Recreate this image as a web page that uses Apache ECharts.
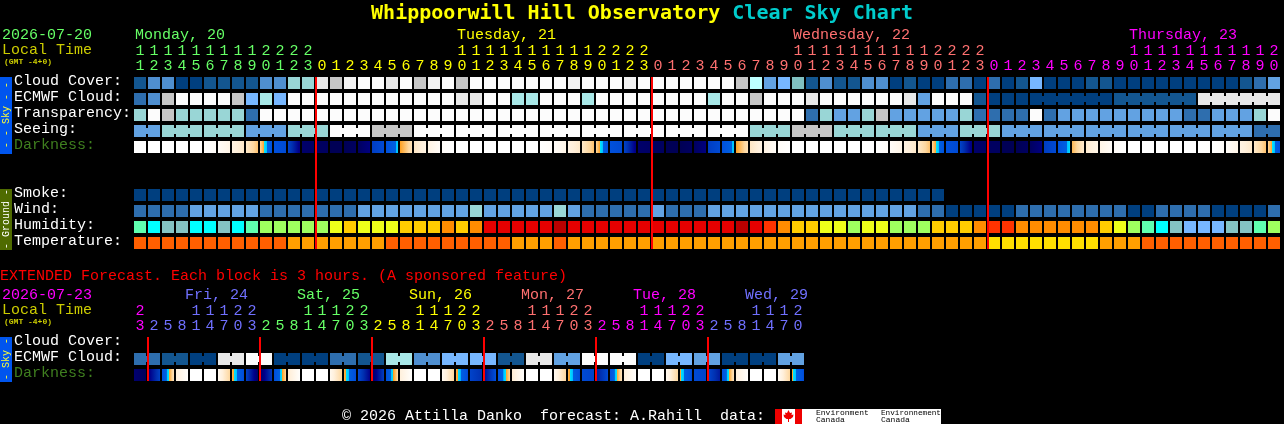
<!DOCTYPE html>
<html><head><meta charset="utf-8">
<style>html,body{margin:0;padding:0;background:#000;overflow:hidden}#c{width:1284px;height:424px}</style>
<script src="https://cdn.jsdelivr.net/npm/echarts@6/dist/echarts.min.js"></script>
</head><body><div id="c"></div>
<script>
var MONO = '"Liberation Mono", monospace';
var TITLE_FONT = '"DejaVu Sans Mono", monospace';
/* ---- colour tables: rows store an index into these ---- */
var skyPalette = ['#003f7f','#135690','#2e6eae','#4f8fd0','#62a2e2','#77b7ff','#80c0c0','#99d6d6','#a8e8e8','#bdffff','#c6c6c6','#e8e8e8','#f2f2f2','#fcfcfc'];
var humidityPalette = ['#5fffaf','#00ffff','#84c4c4','#77b7ff','#9fff5f','#eeff1a','#ffcc00','#ff8c00','#ff3300','#e60000','#bb0000'];
var temperaturePalette = ['#ff5f00','#ff9f00','#ffdf00'];
var darkRamp = [[0,'#ffffff'],[1,'#fff0dc'],[2,'#fdd79f'],[3,'#ffa020'],[3.01,'#00e6ff'],[3.6,'#00c0ff'],[3.7,'#0060e0'],[5,'#0050dc'],[6,'#0030b0'],[7,'#00008a'],[8,'#000055']];

/* ---- near-term forecast: hours and rows ---- */
var hours = [11,12,13,14,15,16,17,18,19,20,21,22,23,
 0,1,2,3,4,5,6,7,8,9,10,11,12,13,14,15,16,17,18,19,20,21,22,23,
 0,1,2,3,4,5,6,7,8,9,10,11,12,13,14,15,16,17,18,19,20,21,22,23,
 0,1,2,3,4,5,6,7,8,9,10,11,12,13,14,15,16,17,18,19,20];
var dayColors = ['#66ff66','#ffff00','#ff7070','#ff00ff'];
var dayNames = {0:'Monday, 20',23:'Tuesday, 21',47:'Wednesday, 22',71:'Thursday, 23'};
var midnights = [13,37,61];
var rowNames = ['Cloud Cover:','ECMWF Cloud:','Transparency:','Seeing:','Darkness:','','','Smoke:','Wind:','Humidity:','Temperature:'];

var cloudCover = [1,3,3,0,0,1,1,1,1,3,3,7,7,
 11,10,12,13,13,11,13,10,12,
 13,10,13,13,13,13,13,13,13,12,13,13,13,12,
 13,13,13,13,13,13,13,10,9,4,5,6,1,3,1,1,3,3,0,1,0,0,2,2,0,2,0,1,5,0,0,0,1,1,0,0,0,0,0,0,0,0,0,1,2,4];
var ecmwfCloud = [2,3,10,13,13,13,13,10,5,8,5,
 13,13,13,13,13,13,13,13,13,13,13,13,
 11,11,13,13,8,8,13,13,13,8,13,13,13,13,13,13,13,13,8,13,13,10,13,13,13,11,
 13,13,13,13,13,13,11,4,13,13,13,1,
 0,0,0,0,0,0,0,0,0,1,1,1,1,1,1,11,11,11,11,11,11];
var ecmwfRuns = [[64,6],[70,6],[76,6]];
var transparency = [7,13,10,7,7,7,7,7,2,
 13,13,13,13,13,13,13,13,13,13,13,13,13,13,13,13,13,13,13,13,
 13,13,13,13,13,13,13,13,13,13,13,13,13,13,13,13,13,13,13,
 2,7,4,4,7,10,4,4,4,4,4,7,2,2,2,2,13,2,4,4,4,4,4,4,4,4,4,2,2,4,4,4,7,13];
var seeing = [4,4,7,7,7,7,7,7,4,4,4,7,7,7,13,13,13,10,10,10,
 13,13,13,13,13,13,13,13,13,13,13,13,13,13,13,13,13,13,13,13,13,13,13,13,
 7,7,7,10,10,10,7,7,7,7,7,7,4,4,4,7,7,7,
 4,4,4,4,4,4,4,4,4,4,4,4,4,4,4,4,4,4,2,2];
var seeingRuns = [[0,2],[2,3],[5,3],[8,3],[11,3],[14,3],[17,3],[20,3],[23,3],[26,3],[29,3],[32,3],[35,3],[38,3],[41,3],[44,3],[47,3],[50,3],[53,3],[56,3],[59,3],[62,3],[65,3],[68,3],[71,3],[74,3],[77,3],[80,2]];
/* darkness: brightness level at the left and right edge of each hour cell */
var darkness = [[0,0],[0,0],[0,0],[0,0],[0,0],[0,.2],[.2,.7],[.8,1.3],[1.3,2.4],[2,4.8],[5,5.2],[5.4,7.2],[7.6,7.7],
 [7.8,7.8],[8,8],[8,7.8],[7.8,7.2],[5.6,5.2],[5,3.4],[3,1.6],[1.4,.8],[.8,.2],[.2,0],
 [0,0],[0,0],[0,0],[0,0],[0,0],[0,0],[0,.2],[.2,.7],[.8,1.3],[1.3,2.4],[2,4.8],[5,5.2],[5.4,7.2],[7.6,7.7],
 [7.8,7.8],[8,8],[8,7.8],[7.8,7.2],[5.6,5.2],[5,3.4],[3,1.6],[1.4,.8],[.8,.2],[.2,0],
 [0,0],[0,0],[0,0],[0,0],[0,0],[0,0],[0,.2],[.2,.7],[.8,1.3],[1.3,2.4],[2,4.8],[5,5.2],[5.4,7.2],[7.6,7.7],
 [7.8,7.8],[8,8],[8,7.8],[7.8,7.2],[5.6,5.2],[5,3.2],[2.6,1.2],[1.2,.7],[.7,.2],[.2,0],
 [0,0],[0,0],[0,0],[0,0],[0,0],[0,.1],[0,.2],[.2,.7],[.8,1.3],[1.3,2.4],[2,4.8]];
var smoke = [0,0,0,0,0,0,0,0,0,0,0,0,0,0,0,0,0,0,0,0,0,0,0,0,0,0,0,0,0,0,0,0,0,0,0,0,0,0,0,0,0,0,0,0,0,0,0,0,0,0,0,0,0,0,0,0,0,0];
var wind = [2,2,2,2,4,4,4,4,4,2,2,2,2,2,2,2,4,4,4,4,4,
 4,4,4,7,4,4,4,4,4,7,4,2,2,2,2,2,4,2,2,2,4,4,4,4,4,4,4,4,4,4,4,
 4,4,4,4,2,2,0,0,0,0,0,2,2,2,2,2,2,2,2,0,0,2,2,2,2,0,0,0,0,2];
var humidity = [0,1,2,2,1,1,2,1,0,4,4,4,4,4,5,6,5,5,5,6,6,
 6,7,6,7,9,9,9,9,9,10,9,9,9,9,9,9,9,9,9,9,9,9,10,9,8,7,6,6,5,5,4,
 5,5,4,4,4,6,6,6,7,8,8,7,7,7,7,7,7,6,5,4,0,1,2,3,3,3,2,2,0,4];
var temperature = [0,0,0,0,0,0,0,0,0,0,0,1,1,1,1,1,1,1,0,0,0,
 0,0,0,0,0,0,1,1,1,0,1,1,1,1,1,1,1,1,1,1,1,1,1,1,1,1,1,1,1,1,1,
 1,1,1,1,1,1,1,1,1,2,2,2,2,2,2,2,2,1,1,1,0,0,0,0,0,0,0,0,0,0];

/* ---- extended forecast ---- */
var extHours = [23,2,5,8,11,14,17,20,23,2,5,8,11,14,17,20,23,2,5,8,11,14,17,20,23,2,5,8,11,14,17,20,23,2,5,8,11,14,17,20,23,2,5,8,11,14,17,20];
var extDayColors = ['#ff00ff','#7070ff','#66ff66','#ffff00','#ff7070','#ff00ff','#7070ff'];
var extDayNames = {3:'Fri, 24',11:'Sat, 25',19:'Sun, 26',27:'Mon, 27',35:'Tue, 28',43:'Wed, 29'};
var extMidnights = [1,9,17,25,33,41];
var extRowNames = ['Cloud Cover:','ECMWF Cloud:','Darkness:'];
var extEcmwf = [2,2,1,1,0,0,11,11,13,13,0,0,0,0,2,2,1,1,8,8,3,3,5,5,5,5,1,1,11,11,4,4,13,13,13,13,0,0,5,5,4,4,0,0,0,0,4,4];
var extRuns = [[0,2],[2,2],[4,2],[6,2],[8,2],[10,2],[12,2],[14,2],[16,2],[18,2],[20,2],[22,2],[24,2],[26,2],[28,2],[30,2],[32,2],[34,2],[36,2],[38,2],[40,2],[42,2],[44,2],[46,2]];
var extDarkness = [[7.5,7.9],[7.3,5.5],[5,1.5],[1,.1],[0,0],[0,0],[.4,2],[2.6,5.2],[5.5,7.7],[7.7,5.8],[5.2,2],[1.2,.1],[0,0],[0,0],[.5,2],[2.6,5.2],[5.2,7],[7.8,5.6],[5,1.8],[1,.1],[0,0],[0,0],[.4,2],[2.6,5.3],[5.4,6],[6.8,5],[5,2],[1.2,.1],[0,0],[0,0],[.4,2],[2.6,5.2],[5.2,5.4],[6.5,5.2],[5,1.5],[1,.1],[0,0],[0,0],[.4,2],[2.8,5.3],[5.2,5.4],[5.3,6.5],[5,1.5],[1,.1],[0,0],[0,0],[.3,2],[2.8,5.2]];

/* ---- helpers ---- */
function dayIndexes(hs){var d=0,out=[];for(var i=0;i<hs.length;i++){if(i&&hs[i]<hs[i-1])d++;out.push(d);}return out;}
function labelData(hs,colors,fn){var di=dayIndexes(hs);return hs.map(function(h,i){return {value:fn(h),textStyle:{color:colors[di[i]]}};});}
function hex(c){return [parseInt(c.substr(1,2),16),parseInt(c.substr(3,2),16),parseInt(c.substr(5,2),16)];}
function rampColor(v){
  for(var i=1;i<darkRamp.length;i++){if(v<=darkRamp[i][0]){
    var a=darkRamp[i-1],b=darkRamp[i],t=(v-a[0])/(b[0]-a[0]),p=hex(a[1]),q=hex(b[1]);
    return 'rgb('+[0,1,2].map(function(k){return Math.round(p[k]+(q[k]-p[k])*t);}).join(',')+')';}}
  return darkRamp[darkRamp.length-1][1];
}
function darkFill(l,r){
  var stops=[{offset:0,color:rampColor(l)}],lo=Math.min(l,r),hi=Math.max(l,r);
  var nodes=darkRamp.filter(function(n){return n[0]>lo&&n[0]<hi;});
  if(l>r)nodes=nodes.slice().reverse();
  nodes.forEach(function(n){stops.push({offset:(n[0]-l)/(r-l),color:n[1]});});
  stops.push({offset:1,color:rampColor(r)});
  return {type:'linear',x:0,y:0,x2:1,y2:0,colorStops:stops};
}
function runJoins(runs){var s={};(runs||[]).forEach(function(r){for(var i=r[0];i<r[0]+r[1]-1;i++)s[i]=1;});return s;}
function renderCell(params,api){
  var c=api.coord([api.value(0),api.value(1)]),sz=api.size([1,1]);
  var w=sz[0]-2,h=sz[1]-4,fill;
  if(params.seriesName==='dark'){fill=darkFill(api.value(2),api.value(3));}
  else{fill=PAL[params.seriesId][api.value(2)];}
  var kids=[{type:'rect',shape:{x:c[0]-w/2,y:c[1]-h/2,width:w,height:h},style:{fill:fill}}];
  if(params.seriesName!=='dark'&&api.value(3)>0){
    kids.push({type:'rect',shape:{x:c[0]+w/2,y:c[1]-3,width:2,height:6},style:{fill:fill}});
  }
  return {type:'group',children:kids};
}
function renderLine(params,api){
  var c=api.coord([api.value(0),0]),sz=api.size([1,1]),cs=params.coordSys;
  return {type:'rect',shape:{x:c[0]-sz[0]/2,y:cs.y+2,width:2,height:cs.height-4},style:{fill:'#ff0000'}};
}
var PAL={};
var seriesList=[];
function addRow(id,values,palette,row,axes,runs){
  PAL[id]=palette;var joins=runJoins(runs);
  seriesList.push({type:'custom',id:id,name:'cell',xAxisIndex:axes,yAxisIndex:axes?1:0,renderItem:renderCell,clip:false,silent:true,
    encode:{x:0,y:1},data:values.map(function(v,i){return [i,row,v,joins[i]?1:0];})});
}
function addDark(id,pairs,row,axes){
  seriesList.push({type:'custom',id:id,name:'dark',xAxisIndex:axes,yAxisIndex:axes?1:0,renderItem:renderCell,clip:false,silent:true,
    encode:{x:0,y:1},data:pairs.map(function(p,i){return [i,row,p[0],p[1]];})});
}
function addLines(id,cols,axes){
  seriesList.push({type:'custom',id:id,name:'line',xAxisIndex:axes,yAxisIndex:axes?1:0,renderItem:renderLine,clip:false,silent:true,z:5,
    encode:{x:0},data:cols.map(function(c){return [c];})});
}
addRow('cloud',cloudCover,skyPalette,0,0);
addRow('ecmwf',ecmwfCloud,skyPalette,1,0,ecmwfRuns);
addRow('trans',transparency,skyPalette,2,0);
addRow('seeing',seeing,skyPalette,3,0,seeingRuns);
addDark('dark',darkness,4,0);
addRow('smoke',smoke,skyPalette,7,0);
addRow('wind',wind,skyPalette,8,0);
addRow('humidity',humidity,humidityPalette,9,0);
addRow('temperature',temperature,temperaturePalette,10,0);
addLines('midnight',midnights,0);
addRow('extEcmwf',extEcmwf,skyPalette,1,3,extRuns);
addDark('extDark',extDarkness,2,3);
addLines('extMidnight',extMidnights,3);

function hourAxis(grid,labels,offset,margin){
  return {type:'category',gridIndex:grid,position:'top',offset:offset,data:labels,
    axisLine:{show:false},axisTick:{show:false},splitLine:{show:false},
    axisLabel:{interval:0,margin:margin,fontFamily:MONO,fontSize:15,hideOverlap:false}};
}
var topOnes=labelData(hours,dayColors,function(h){return String(h%10);});
var topTens=labelData(hours,dayColors,function(h){return h>=10?String(Math.floor(h/10)):'';});
var dayCats=[];for(var i=0;i<=hours.length;i++){dayCats.push(dayNames[i]||'');}
var topDi=dayIndexes(hours);
var topDays=dayCats.map(function(v,i){return {value:v,textStyle:{align:'left',padding:[0,0,0,2],color:dayColors[topDi[Math.min(i,hours.length-1)]]}};});
var extOnes=labelData(extHours,extDayColors,function(h){return String(h%10);});
var extTens=labelData(extHours,extDayColors,function(h){return h>=10?String(Math.floor(h/10)):'';});
var extDi=dayIndexes(extHours);
var extDays=extHours.map(function(h,i){return {value:extDayNames[i]||'',textStyle:{align:'left',padding:[0,0,0,3],color:extDayColors[extDi[i]]}};});

var dayAxisTop=hourAxis(0,topDays,29,3);dayAxisTop.boundaryGap=false;
var dayAxisExt=hourAxis(1,extDays,29,3);

function rowAxis(grid,names){
  return {type:'category',gridIndex:grid,inverse:true,
    data:names.map(function(n){return {value:n,textStyle:{align:'left'}};}),
    axisLine:{show:false},axisTick:{show:false},splitLine:{show:false},
    axisLabel:{interval:0,margin:119,fontFamily:MONO,fontSize:15,
      formatter:function(v){return v?('{'+(v==='Darkness:'?'d':'t')+'|'+v+'}'):'';},
      rich:{t:{color:'#ffffff',fontFamily:MONO,fontSize:15,padding:[0,0,4,0]},d:{color:'#3f7f1f',fontFamily:MONO,fontSize:15,padding:[0,0,4,0]}}}};
}
function txt(x,y,s,color,size,extra){
  var style={text:s,fill:color,font:(extra&&extra.weight||'normal')+' '+size+'px '+MONO,textVerticalAlign:'middle'};
  return {type:'text',x:x,y:y,style:style,silent:true,rotation:extra&&extra.rot||0};
}
function vtxt(cx,cy,s,color,size,weight){
  return {type:'text',x:cx,y:cy,rotation:Math.PI/2,silent:true,
    style:{text:s,fill:color,font:(weight||'normal')+' '+size+'px '+MONO,textAlign:'center',textVerticalAlign:'middle'}};
}
function rect(x,y,w,h,fill){return {type:'rect',shape:{x:x,y:y,width:w,height:h},style:{fill:fill},silent:true};}

var option={
  backgroundColor:'#000',animation:false,tooltip:{show:false},
  title:{left:'center',top:0,padding:[4,0,0,0],
    text:'{a|Whippoorwill Hill Observatory }{b|Clear Sky Chart}',
    textStyle:{rich:{a:{color:'#ffff00',fontFamily:TITLE_FONT,fontWeight:'bold',fontSize:20},b:{color:'#00cccc',fontFamily:TITLE_FONT,fontWeight:'bold',fontSize:20}}}},
  grid:[{left:133,top:75,width:1148,height:176,outerBoundsMode:'none',containLabel:false},{left:133,top:335,width:672,height:48,outerBoundsMode:'none',containLabel:false}],
  xAxis:[hourAxis(0,topOnes,0,1),hourAxis(0,topTens,15,1),dayAxisTop,
         hourAxis(1,extOnes,0,1),hourAxis(1,extTens,15,1),dayAxisExt],
  yAxis:[rowAxis(0,rowNames),rowAxis(1,extRowNames)],
  series:seriesList,
  graphic:{elements:[
    txt(2,35,'2026-07-20','#66ff66',15),
    txt(2,50,'Local Time','#cccc00',15),
    txt(4,62,'(GMT -4+0)','#cccc00',8,{weight:'bold'}),
    rect(0,77,12,77,'#0055ee'),
    vtxt(6,115,'- - Sky - -','#ffff33',10),
    rect(0,189,12,61,'#4f6b00'),
    vtxt(6,219,'- Ground -','#ffffff',10),
    txt(0,276,'EXTENDED Forecast. Each block is 3 hours. (A sponsored feature)','#ff0000',15),
    txt(2,295,'2026-07-23','#ff00ff',15),
    txt(2,310,'Local Time','#cccc00',15),
    txt(4,322,'(GMT -4+0)','#cccc00',8,{weight:'bold'}),
    rect(0,337,12,45,'#0055ee'),
    vtxt(6,359,'- Sky -','#ffff33',10),
    txt(342,416,'\u00a9 2026 Attilla Danko  forecast: A.Rahill  data:','#ffffff',15),
    rect(775,409,166,15,'#ffffff'),
    rect(775,409,7,15,'#ee0000'),
    rect(795,409,7,15,'#ee0000'),
    {type:'polygon',silent:true,shape:{points:[[788.5,410],[790,413],[792,412.5],[791.5,415],[793.5,414.5],[793,417],[790.5,419],[789,419],[789,422],[788,422],[788,419],[786.5,419],[784,417],[783.5,414.5],[785.5,415],[785,412.5],[787,413]]},style:{fill:'#ee0000'}},
    txt(816,413,'Environment','#000000',8),
    txt(816,420,'Canada','#000000',8),
    txt(881,413,'Environnement','#000000',7.7),
    txt(881,420,'Canada','#000000',8)
  ]}
};
var chart=echarts.init(document.getElementById('c'),null,{renderer:'canvas',width:1284,height:424});
chart.setOption(option);
</script></body></html>
